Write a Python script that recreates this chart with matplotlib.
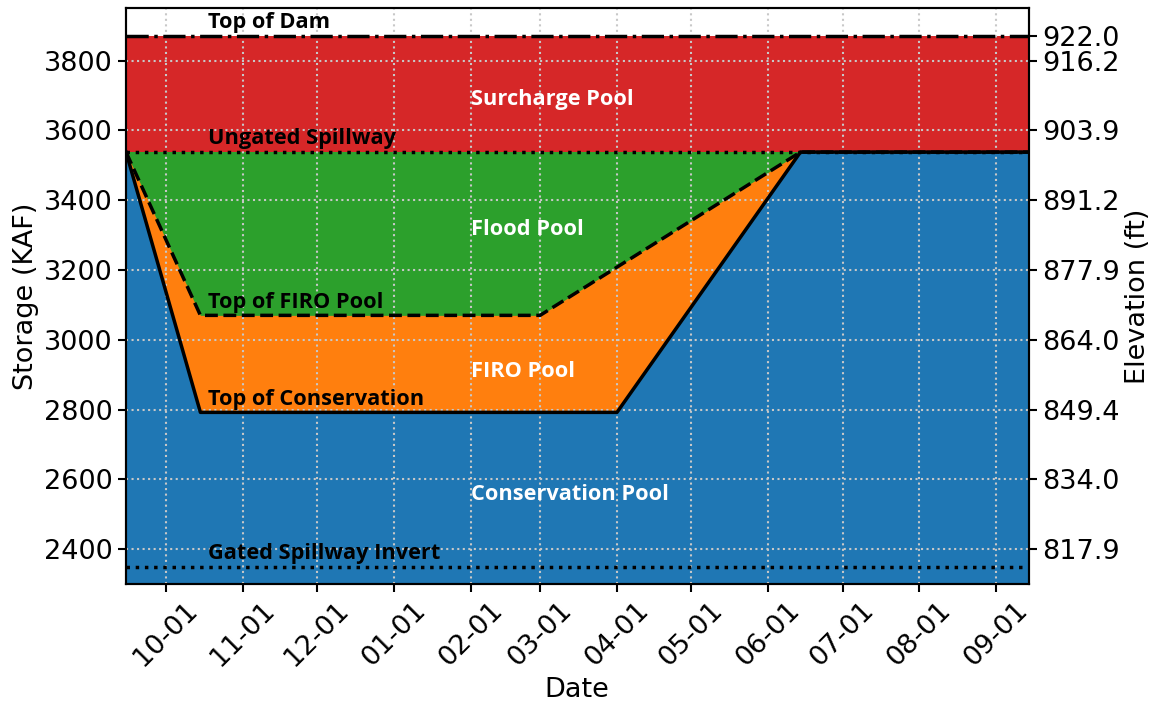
import matplotlib
matplotlib.use("Agg")
import matplotlib.pyplot as plt
import matplotlib.dates as mdates
import numpy as np
import pandas as pd

# ---- data ----
x_range = ["2020-09-15", "2021-09-14"]
cons_dates = ["2020-09-15", "2020-10-15", "2021-04-01", "2021-06-14", "2021-09-14"]
cons_storage = [3538, 2792, 2792, 3538, 3538]
firo_dates = ["2020-09-15", "2020-10-15", "2021-03-01", "2021-06-14", "2021-09-14"]
firo_storage = [3538, 3070, 3070, 3538, 3538]
top_of_dam = 3872
ungated_spillway = 3538
gated_invert = 2350
y_min, y_max = 2300, 3950
left_ticks = [2400, 2600, 2800, 3000, 3200, 3400, 3600, 3800]
right_ticks = [2400, 2600, 2800, 3000, 3200, 3400, 3600, 3800, 3872]
right_labels = ["817.9", "834.0", "849.4", "864.0", "877.9", "891.2", "903.9", "916.2", "922.0"]
line_labels = ["Top of Dam", "Ungated Spillway", "Top of FIRO Pool", "Top of Conservation", "Gated Spillway Invert"]
line_label_y = [top_of_dam, ungated_spillway, 3070, 2792, gated_invert]
pool_labels = ["Surcharge Pool", "Flood Pool", "FIRO Pool", "Conservation Pool"]
pool_label_y = [3688, 3315, 2910, 2558]
tick_dates = ["2020-10-01", "2020-11-01", "2020-12-01", "2021-01-01", "2021-02-01", "2021-03-01",
              "2021-04-01", "2021-05-01", "2021-06-01", "2021-07-01", "2021-08-01", "2021-09-01"]

xr = pd.to_datetime(x_range)
cd = pd.to_datetime(cons_dates)
fd = pd.to_datetime(firo_dates)

plt.rcParams['font.size'] = 19.5
fig = plt.figure(figsize=(11.53, 7.05), dpi=100)
ax = fig.add_axes([0.1093, 0.1716, 0.7828, 0.8166])

ax.fill_between(xr, [ungated_spillway] * 2, [top_of_dam] * 2, color="#d62728", lw=0, zorder=1)
ax.fill_between(xr, [y_min] * 2, [ungated_spillway] * 2, color="#2ca02c", lw=0, zorder=1)
ax.fill_between(fd, y_min, firo_storage, color="#ff7f0e", lw=0, zorder=1.1)
ax.fill_between(cd, y_min, cons_storage, color="#1f77b4", lw=0, zorder=1.2)

ax.plot(xr, [top_of_dam] * 2, color="black", ls="-.", lw=2.5, zorder=3)
ax.plot(xr, [ungated_spillway] * 2, color="black", ls=":", lw=2.5, zorder=3)
ax.plot(xr, [gated_invert] * 2, color="black", ls=":", lw=2.5, zorder=3)
ax.plot(fd, firo_storage, color="black", ls="--", lw=2.5, zorder=3)
ax.plot(cd, cons_storage, color="black", ls="-", lw=2.5, zorder=3.1)

lab_x = pd.Timestamp("2020-10-18")
for t, y in zip(line_labels, line_label_y):
    ax.annotate(t, (lab_x, y), xytext=(0, 2), textcoords="offset points",
                ha="left", va="bottom", fontsize=15.7, fontweight="bold",
                family="Open Sans", color="black", zorder=4)
pool_x = pd.Timestamp("2021-02-01")
for t, y in zip(pool_labels, pool_label_y):
    ax.text(pool_x, y, t, ha="left", va="center", fontsize=15.7, fontweight="bold",
            family="Open Sans", color="white", zorder=4)

ax.set_xlim(xr[0], xr[1])
ax.set_ylim(y_min, y_max)
ax.set_yticks(left_ticks)
ax.set_xticks(pd.to_datetime(tick_dates))
ax.xaxis.set_major_formatter(mdates.DateFormatter("%m-%d"))
plt.setp(ax.get_xticklabels(), rotation=45, ha="center")
ax.set_axisbelow(False)
ax.grid(True, ls=":", color="#c8c8c8", lw=1.5)
ax.set_xlabel("Date")
ax.set_ylabel("Storage (KAF)")
for s in ax.spines.values():
    s.set_linewidth(1.5)
ax.tick_params(width=1.5, length=6)

ax2 = ax.twinx()
ax2.set_ylim(y_min, y_max)
ax2.set_yticks(right_ticks)
ax2.set_yticklabels(right_labels)
ax2.set_ylabel("Elevation (ft)")
ax2.tick_params(width=1.5, length=6)
for s in ax2.spines.values():
    s.set_linewidth(1.5)

fig.savefig("out.png", dpi=100)
